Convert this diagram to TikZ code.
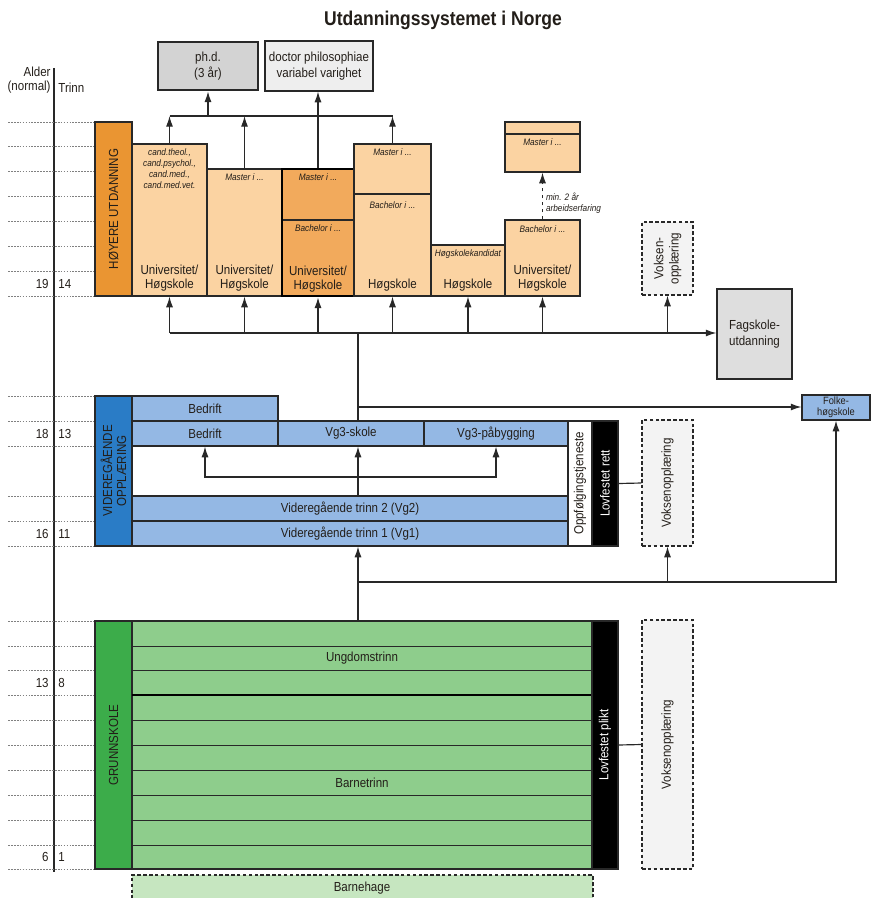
\documentclass[tikz,border=0pt]{standalone}
\usepackage{fontspec}
\setmainfont{Liberation Sans}[FakeStretch=0.88]
\usepackage{tikz}
\usetikzlibrary{
    arrows.meta,
    positioning,
    fit
}

\definecolor{hoyere}{RGB}{234,149,50}
\definecolor{hlight}{RGB}{251,211,162}
\definecolor{hmid}{RGB}{242,170,92}
\definecolor{vgdark}{RGB}{42,124,198}
\definecolor{vglight}{RGB}{148,184,228}
\definecolor{gsdark}{RGB}{60,172,74}
\definecolor{gslight}{RGB}{142,205,140}
\definecolor{bhage}{RGB}{198,230,192}
\definecolor{phdgray}{RGB}{211,211,211}
\definecolor{drgray}{RGB}{238,238,238}
\definecolor{fagray}{RGB}{222,222,222}
\definecolor{voksgray}{RGB}{243,243,243}
\definecolor{linegray}{RGB}{40,40,40}
\definecolor{txt}{RGB}{35,30,25}

\begin{document}
\begin{tikzpicture}[
x=0.03cm, y=-0.03cm,
font=\fontsize{11.2}{12.5}\selectfont,
text=txt,
box/.style={
draw=linegray,
line width=1pt,
inner sep=0pt
},
hbox/.style={box, fill=hlight},
vbox/.style={box, fill=vglight},
sidebar/.style={box, line width=1.2pt},
vtext/.style={rotate=90, align=center, inner sep=0pt},
lbl/.style={align=center, inner sep=1pt},
note/.style={
align=center,
inner sep=0.5pt,
font=\itshape\fontsize{8}{9.4}\selectfont
},
adult/.style={box, fill=voksgray, dash pattern=on 3pt off 2pt},
link/.style={draw=linegray, line width=1pt},
arr/.style={link, -{Latex[length=3.2mm, width=2.1mm]}},
ageline/.style={gray, dash pattern=on 1.5pt off 1pt, line width=0.6pt}
]
\useasboundingbox (0,0) rectangle (872,898);

\node[font=\bfseries\fontsize{17}{20}\selectfont] (title) at (443,20)
{Utdanningssystemet i Norge};

% age axis
\node[anchor=east, align=right, inner sep=1pt] (alder) at (52,80)
{Alder\\(normal)};
\node[anchor=west, inner sep=1pt] (trinn) at (57,88) {Trinn};
\draw[linegray, line width=0.9pt] (54,68) -- (54,872);
\foreach \y in {122,146,171,196,221,246,271,296,396,421,446,496,521,546,
621,646,670,695,720,745,770,795,820,845,869}
  \draw[ageline] (8,\y) -- (93,\y);
\foreach \a/\t/\y in {19/14/284, 18/13/434, 16/11/534, 13/8/683, 6/1/857} {
  \node[anchor=east, inner sep=1pt] (age\a) at (50,\y) {\a};
  \node[anchor=west, inner sep=1pt] (trinn\t) at (57,\y) {\t};
}

% doctoral level
\node[box, fill=phdgray, line width=2.4pt, fit={(158,42) (258,90)}] (phd) {};
\node[lbl, font=\fontsize{11.2}{13.5}\selectfont] (phdt) at (phd.center)
{ph.d.\\(3 år)};

\node[box, fill=drgray, fit={(265,41) (373,91)}] (doctor) {};
\node[lbl, font=\fontsize{11.2}{13.5}\selectfont] (doctort) at (doctor.center)
{doctor philosophiae\\variabel varighet};

% higher education
\node[sidebar, fill=hoyere, fit={(95,122) (132,296)}] (hoyerebar) {};
\node[vtext] (hoyeretxt) at (hoyerebar.center) {HØYERE UTDANNING};

\node[hbox, fit={(132,144) (207,296)}] (uni1) {};
\node[hbox, fit={(207,169) (282,296)}] (uni2) {};
\node[hbox, fill=hmid, fit={(282,169) (354,220)}] (uni3m) {};
\node[hbox, fill=hmid, fit={(282,220) (354,296)}] (uni3b) {};
\node[draw=black, line width=2.4pt, inner sep=0pt,
fit={(282,169) (354,296)}] (uni3) {};
\node[hbox, fit={(354,144) (431,194)}] (hs1m) {};
\node[hbox, fit={(354,194) (431,296)}] (hs1b) {};
\node[hbox, fit={(431,245) (505,296)}] (hs2) {};
\node[hbox, fit={(505,220) (580,296)}] (uni4) {};
\node[hbox, fit={(505,122) (580,134)}] (mhead) {};
\node[hbox, fit={(505,134) (580,172)}] (mbody) {};

\node[note, below=4pt of uni1.north] (uni1n)
{cand.theol.,\\cand.psychol.,\\cand.med.,\\cand.med.vet.};
\node[note, below=4pt of uni2.north] (uni2n) {Master i ...};
\node[note, below=4pt of uni3m.north] (uni3mn) {Master i ...};
\node[note, below=4pt of uni3b.north] (uni3bn) {Bachelor i ...};
\node[note, below=4pt of hs1m.north] (hs1mn) {Master i ...};
\node[note, below=6pt of hs1b.north] (hs1bn) {Bachelor i ...};
\node[note, below=4pt of hs2.north] (hs2n) {Høgskolekandidat};
\node[note, below=5pt of uni4.north] (uni4n) {Bachelor i ...};
\node[note, below=4pt of mbody.north] (mbodyn) {Master i ...};

\node[lbl, above=3pt of uni1.south] (uni1l) {Universitet/\\Høgskole};
\node[lbl, above=3pt of uni2.south] (uni2l) {Universitet/\\Høgskole};
\node[lbl, above=3pt of uni3.south] (uni3l) {Universitet/\\Høgskole};
\node[lbl, above=3pt of hs1b.south] (hs1l) {Høgskole};
\node[lbl, above=3pt of hs2.south] (hs2l) {Høgskole};
\node[lbl, above=3pt of uni4.south] (uni4l) {Universitet/\\Høgskole};

\node[adult, fit={(642,222) (693,295)}] (voksen1) {};
\node[vtext, font=\fontsize{11.2}{13}\selectfont] (voksen1t)
at (voksen1.center) {Voksen-\\opplæring};

\node[box, fill=fagray, fit={(717,289) (792,379)}] (fagskole) {};
\node[lbl, font=\fontsize{11.2}{13.5}\selectfont] (fagskolet)
at (fagskole.center) {Fagskole-\\utdanning};

% upper secondary
\node[sidebar, fill=vgdark, fit={(95,396) (132,546)}] (vgobar) {};
\node[vtext, font=\fontsize{11.2}{12}\selectfont] (vgotxt)
at (vgobar.center) {VIDEREGÅENDE\\OPPLÆRING};

\node[vbox, fit={(132,396) (278,421)}] (bedrift1) {};
\node[vbox, fit={(132,421) (278,446)}] (bedrift2) {};
\node[vbox, fit={(278,421) (424,446)}] (vg3skole) {};
\node[vbox, fit={(424,421) (568,446)}] (pabygg) {};
\node[vbox, fit={(132,496) (568,521)}] (vg2) {};
\node[vbox, fit={(132,521) (568,546)}] (vg1) {};
\node[lbl] (bedrift1t) at (bedrift1.center) {Bedrift};
\node[lbl] (bedrift2t) at (bedrift2.center) {Bedrift};
\node[lbl] (vg3skolet) at (vg3skole.center) {Vg3-skole};
\node[lbl] (pabyggt) at (pabygg.center) {Vg3-påbygging};
\node[lbl] (vg2t) at (vg2.center) {Videregående trinn 2 (Vg2)};
\node[lbl] (vg1t) at (vg1.center) {Videregående trinn 1 (Vg1)};

\node[box, fill=white, fit={(568,421) (592,546)}] (oppf) {};
\node[vtext] (oppft) at (oppf.center) {Oppfølgingstjeneste};
\node[box, fill=black, fit={(592,421) (618,546)}] (rett) {};
\node[vtext, text=white] (rettt) at (rett.center) {Lovfestet rett};

\node[adult, fit={(642,420) (693,546)}] (voksen2) {};
\node[vtext] (voksen2t) at (voksen2.center) {Voksenopplæring};

\node[vbox, fit={(802,395) (870,420)}] (folke) {};
\node[lbl, inner sep=0pt, font=\fontsize{9}{9.5}\selectfont] (folket)
at (folke.center) {Folke-\\høgskole};

% compulsory school
\node[sidebar, fill=gsdark, fit={(95,621) (132,869)}] (gsbar) {};
\node[vtext] (gstxt) at (gsbar.center) {GRUNNSKOLE};

\node[box, fill=gslight, fit={(132,621) (592,869)}] (grunn) {};
\foreach \y in {646,670,720,745,770,795,820,845}
  \draw[linegray, line width=0.8pt] (132,\y) -- (592,\y);
\draw[black, line width=1.5pt] (132,695) -- (592,695);
\node[lbl] (ungdom) at (362,658) {Ungdomstrinn};
\node[lbl] (barne) at (362,783) {Barnetrinn};

\node[box, fill=black, fit={(592,621) (618,869)}] (plikt) {};
\node[vtext, text=white] (pliktt) at (plikt.center) {Lovfestet plikt};

\node[adult, fit={(642,620) (693,869)}] (voksen3) {};
\node[vtext] (voksen3t) at (voksen3.center) {Voksenopplæring};

\node[adult, fill=bhage, fit={(132,875) (593,905)}] (bhage) {};
\node[lbl] (bhaget) at (362,888) {Barnehage};

% doctoral links
\coordinate (phdbus) at (0,116);
\draw[link] (uni1.north |- phdbus) -- (hs1m.north |- phdbus);
\foreach \b in {uni1,uni2,hs1m}
  \draw[arr] (\b.north) -- (\b.north |- phdbus);
\draw[arr] (phd.south |- phdbus) -- (phd.south);
\draw[arr] (uni3.north) -- (uni3.north |- doctor.south);

\draw[arr, dashed] (uni4.north) -- (mbody.south)
node[note, pos=0.35, right=2pt, align=left] (erfaring)
{min. 2 år\\arbeidserfaring};

% after upper secondary
\coordinate (hbus) at (358,333);
\draw[arr] (uni1.south |- hbus) -- (fagskole.west |- hbus);
\foreach \b in {uni1,uni2,uni3,hs1b,hs2,uni4,voksen1}
  \draw[arr] (\b.south |- hbus) -- (\b.south);
\draw[link] (vg3skole.north -| hbus) -- (hbus);

\coordinate (fbus) at (358,407);
\draw[arr] (fbus) -- (folke.west |- fbus);

% Vg3 choices
\coordinate (vbus) at (358,477);
\draw[arr] (vg2.north -| vbus) -- (vg3skole.south -| vbus);
\draw[arr] (vbus) -| (bedrift2.south);
\draw[arr] (vbus) -| (pabygg.south);

% after compulsory school
\coordinate (gbus) at (358,582);
\draw[link] (grunn.north -| gbus) -- (gbus);
\draw[arr] (gbus) -- (vg1.south -| gbus);
\draw[arr] (voksen2.south |- gbus) -- (voksen2.south);
\draw[arr] (gbus) -| (folke.south);

\draw[link] (rett.east) -- (voksen2.west);
\draw[link] (plikt.east) -- (voksen3.west);

\end{tikzpicture}
\end{document}
